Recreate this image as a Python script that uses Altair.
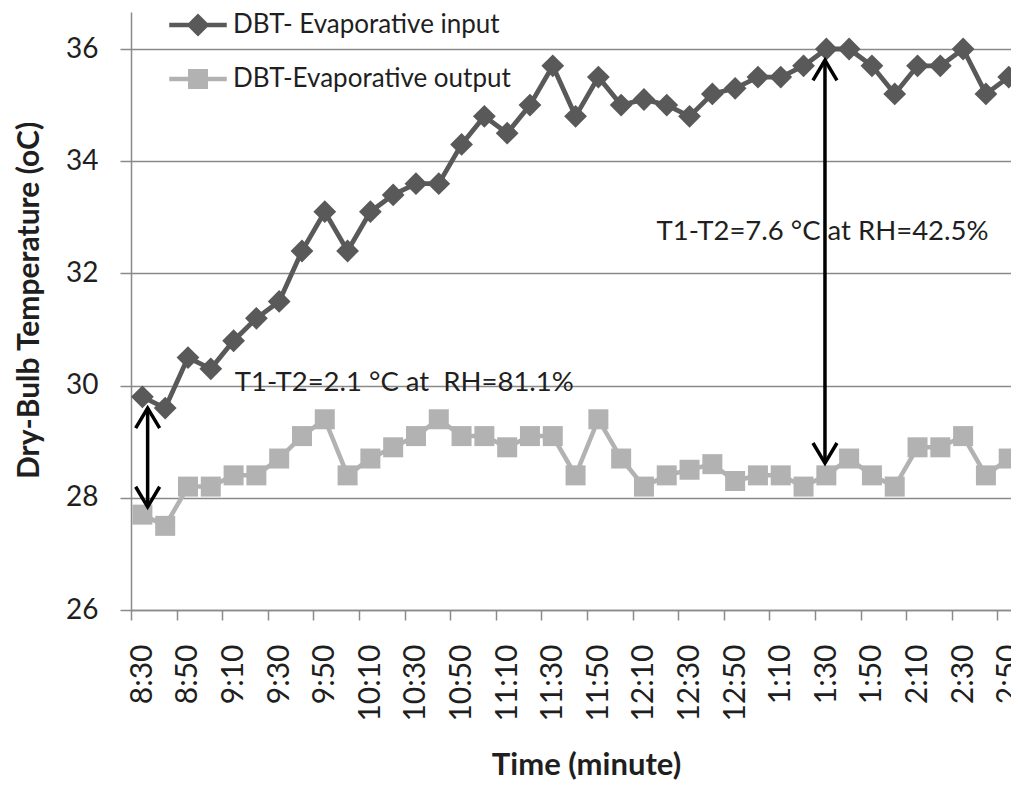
import altair as alt
import pandas as pd

# ---------------- data ----------------
times = ["8:30", "8:40", "8:50", "9:00", "9:10", "9:20", "9:30", "9:40", "9:50",
         "10:00", "10:10", "10:20", "10:30", "10:40", "10:50",
         "11:00", "11:10", "11:20", "11:30", "11:40", "11:50",
         "12:00", "12:10", "12:20", "12:30", "12:40", "12:50",
         "1:00", "1:10", "1:20", "1:30", "1:40", "1:50",
         "2:00", "2:10", "2:20", "2:30", "2:40", "2:50"]

dbt_input = [29.8, 29.6, 30.5, 30.3, 30.8, 31.2, 31.5, 32.4, 33.1,
             32.4, 33.1, 33.4, 33.6, 33.6, 34.3,
             34.8, 34.5, 35.0, 35.7, 34.8, 35.5,
             35.0, 35.1, 35.0, 34.8, 35.2, 35.3,
             35.5, 35.5, 35.7, 36.0, 36.0, 35.7,
             35.2, 35.7, 35.7, 36.0, 35.2, 35.5]

dbt_output = [27.7, 27.5, 28.2, 28.2, 28.4, 28.4, 28.7, 29.1, 29.4,
              28.4, 28.7, 28.9, 29.1, 29.4, 29.1,
              29.1, 28.9, 29.1, 29.1, 28.4, 29.4,
              28.7, 28.2, 28.4, 28.5, 28.6, 28.3,
              28.4, 28.4, 28.2, 28.4, 28.7, 28.4,
              28.2, 28.9, 28.9, 29.1, 28.4, 28.7]

series_names = ["DBT- Evaporative input", "DBT-Evaporative output"]

y_ticks = [26, 28, 30, 32, 34, 36]

ann_text = ["T1-T2=2.1 \u00b0C at\u00a0 RH=81.1%", "T1-T2=7.6 \u00b0C at RH=42.5%"]
ann_x = [4.05, 22.55]
ann_y = [30.05, 32.74]

arrow_x = [0.23, 29.94]
arrow_top = [29.60, 35.80]
arrow_bottom = [27.84, 28.62]

# ---------------- tables ----------------
rows = []
for i, t in enumerate(times):
    rows.append({"idx": i, "time": t, "series": series_names[0], "value": dbt_input[i]})
    rows.append({"idx": i, "time": t, "series": series_names[1], "value": dbt_output[i]})
df = pd.DataFrame(rows)

ann_df = pd.DataFrame({"x": ann_x, "y": ann_y, "text": ann_text})
arr_df = pd.DataFrame({"x": arrow_x, "top": arrow_top, "bottom": arrow_bottom})

# ---------------- styling ----------------
DARK = "#595959"
LIGHT = "#b2b2b2"
GRID = "#8a8a8a"
TXT = "#1f1f1f"
FONT = "Lato"

W, H = 880, 598
x_max = 38.1
step = W / (x_max + 0.5)

x_scale = alt.Scale(domain=[-0.5, x_max], nice=False, zero=False)
y_scale = alt.Scale(domain=[26, 36.66], nice=False, zero=False)

label_js = "[" + ",".join("'%s'" % t for t in times) + "]"

x_axis = alt.Axis(
    values=list(range(len(times))),
    labelExpr="datum.value % 2 == 0 ? " + label_js + "[datum.value] : ''",
    tickOffset=-step / 2,
    labelOffset=step / 2,
    labelAngle=270,
    labelFont=FONT, labelFontSize=30, labelColor=TXT,
    labelPadding=24, labelFlush=False, labelOverlap=False, labelLimit=300,
    tickSize=10, tickColor=GRID, tickWidth=1.5,
    domainColor=GRID, domainWidth=1.5,
    grid=False,
    title="Time (minute)", titleFont=FONT, titleFontSize=31, titleFontWeight="bold",
    titleColor=TXT, titleX=455, titleY=164, titleBaseline="alphabetic",
)

y_axis = alt.Axis(
    values=y_ticks,
    labelFont=FONT, labelFontSize=28, labelColor=TXT, labelPadding=22,
    labelOverlap=False, labelFlush=False,
    tickSize=11, tickColor=GRID, tickWidth=1.5,
    domainColor=GRID, domainWidth=1.5,
    grid=True, gridColor=GRID, gridWidth=1.5,
    title="Dry-Bulb Temperature (oC)", titleFont=FONT, titleFontSize=30,
    titleFontWeight="bold", titleColor=TXT, titleX=-93, titleY=288,
    titleBaseline="alphabetic",
)

base = alt.Chart(df)
X = alt.X("idx:Q", scale=x_scale, axis=x_axis)
Y = alt.Y("value:Q", scale=y_scale, axis=y_axis)

in_line = base.transform_filter(alt.datum.series == series_names[0]).mark_line(
    color=DARK, strokeWidth=4.8).encode(x=X, y=Y)
in_pts = base.transform_filter(alt.datum.series == series_names[0]).mark_point(
    shape="diamond", filled=True, size=520, color=DARK, opacity=1).encode(x=X, y=Y)
out_line = base.transform_filter(alt.datum.series == series_names[1]).mark_line(
    color=LIGHT, strokeWidth=4.5).encode(x=X, y=Y)
out_pts = base.transform_filter(alt.datum.series == series_names[1]).mark_point(
    shape="square", filled=True, size=400, color=LIGHT, opacity=1).encode(x=X, y=Y)

# legend (symbols = line sample + marker)
leg_diamond = "M-2.5,-0.2H2.5V0.2H-2.5Z M-1,0L0,-1L1,0L0,1Z"
leg_square = "M-2.5,-0.2H2.5V0.2H-2.5Z M-0.87,-0.87H0.87V0.87H-0.87Z"
leg_common = dict(
    title=None, orient="none", legendX=54, legendY=0, padding=0,
    labelFont=FONT, labelFontSize=26, labelColor=TXT, labelLimit=0,
    labelOffset=22, symbolSize=529, symbolStrokeWidth=0, rowPadding=28,
    symbolOpacity=1,
)
legend_layer = base.transform_filter("false").mark_point(filled=True, opacity=1).encode(
    x=X, y=Y,
    color=alt.Color("series:N", scale=alt.Scale(domain=series_names, range=[DARK, LIGHT]),
                    legend=alt.Legend(**leg_common)),
    shape=alt.Shape("series:N", scale=alt.Scale(domain=series_names, range=[leg_diamond, leg_square]),
                    legend=alt.Legend(**leg_common)),
)

# annotations
ann = alt.Chart(ann_df).mark_text(
    align="left", baseline="middle", font=FONT, fontSize=27.5, color=TXT
).encode(x=alt.X("x:Q", scale=x_scale), y=alt.Y("y:Q", scale=y_scale), text="text:N")

shaft = alt.Chart(arr_df).mark_rule(color="black", strokeWidth=3.5).encode(
    x=alt.X("x:Q", scale=x_scale), y=alt.Y("top:Q", scale=y_scale), y2="bottom:Q")
head_up = alt.Chart(arr_df).mark_point(
    shape="M-1,1.67L0,0L1,1.67", size=576, filled=False, color="black",
    strokeWidth=3.5, opacity=1).encode(
    x=alt.X("x:Q", scale=x_scale), y=alt.Y("top:Q", scale=y_scale))
head_down = alt.Chart(arr_df).mark_point(
    shape="M-1,-1.67L0,0L1,-1.67", size=576, filled=False, color="black",
    strokeWidth=3.5, opacity=1).encode(
    x=alt.X("x:Q", scale=x_scale), y=alt.Y("bottom:Q", scale=y_scale))

chart = alt.layer(
    in_line, in_pts, out_line, out_pts, ann, shaft, head_up, head_down, legend_layer
).properties(
    width=W, height=H,
    autosize=alt.AutoSizeParams(type="none"),
    padding={"left": 123, "top": 4, "right": 0, "bottom": 171},
    background="white",
).configure_view(strokeWidth=0)

chart.save("out.html", embed_options={"renderer": "svg", "actions": False})
